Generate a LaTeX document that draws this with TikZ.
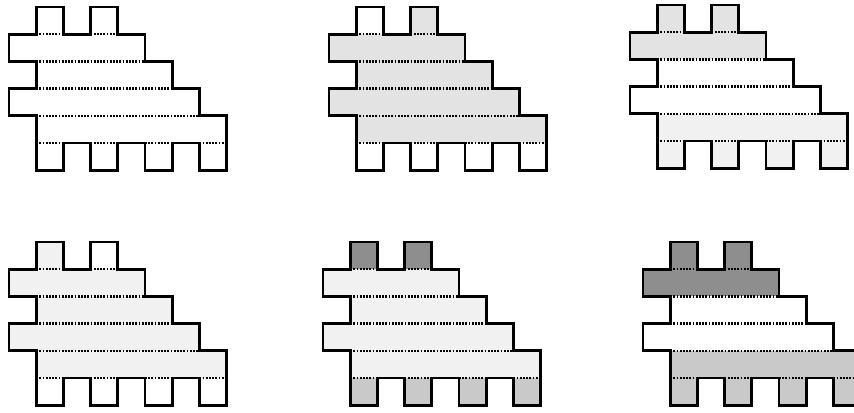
\documentclass[tikz,border=0pt]{standalone}
\usepackage{tikz}
\usepackage{xcolor}
\definecolor{shadelight}{HTML}{E3E3E3}
\definecolor{shadepale}{HTML}{F1F1F1}
\definecolor{shademid}{HTML}{C9C9C9}
\definecolor{shadedark}{HTML}{8E8E8E}

% #1 offset, #2 left top tab, #3 right top tab, #4-#7 rows, #8 bottom tabs
\newcommand{\combshape}[8]{%
  \begin{scope}[shift={#1}, x=20.4pt, y=-20.4pt]
    \fill[#2] (1,0) rectangle (2,1);
    \fill[#3] (3,0) rectangle (4,1);
    \fill[#4] (0,1) rectangle (5,2);
    \fill[#5] (1,2) rectangle (6,3);
    \fill[#6] (0,3) rectangle (7,4);
    \fill[#7] (1,4) rectangle (8,5);
    \foreach \c in {1,3,5,7} {
      \fill[#8] (\c,5) rectangle (\c+1,6);
    }
    % seams between rows
    \draw[seam] (1,1) -- (2,1) (3,1) -- (4,1);
    \draw[seam] (1,2) -- (5,2);
    \draw[seam] (1,3) -- (6,3);
    \draw[seam] (1,4) -- (7,4);
    \foreach \c in {1,3,5,7} {
      \draw[seam] (\c,5) -- (\c+1,5);
    }
    \draw[outline] (1,0) -- (2,0) -- (2,1) -- (3,1) -- (3,0) -- (4,0) -- (4,1) -- (5,1)
      -- (5,2) -- (6,2) -- (6,3) -- (7,3) -- (7,4) -- (8,4) -- (8,6) -- (7,6) -- (7,5)
      -- (6,5) -- (6,6) -- (5,6) -- (5,5) -- (4,5) -- (4,6) -- (3,6) -- (3,5) -- (2,5)
      -- (2,6) -- (1,6) -- (1,4) -- (0,4) -- (0,3) -- (1,3) -- (1,2) -- (0,2) -- (0,1)
      -- (1,1) -- cycle;
  \end{scope}}

\begin{document}
\begin{tikzpicture}[
    x=0.75pt, y=-0.75pt,
    outline/.style={draw=black, line width=2pt, line join=miter},
    seam/.style={line width=1.8pt, dash pattern=on 1.3pt off 1.1pt},
]
\useasboundingbox (0,0) rectangle (854,412);
\clip (0,0) rectangle (854,412);

% Shapes - top row
\combshape{(9,7)}{white}{white}{white}{white}{white}{white}{white}
\combshape{(329,7)}{white}{shadelight}{shadelight}{shadelight}{shadelight}{shadelight}{white}
\combshape{(630,5)}{shadelight}{shadelight}{shadelight}{white}{white}{shadepale}{shadepale}

% Shapes - bottom row
\combshape{(9,242)}{shadepale}{white}{shadepale}{shadepale}{shadepale}{shadepale}{white}
\combshape{(323,242)}{shadedark}{shadedark}{shadepale}{shadepale}{shadepale}{shadepale}{shademid}
\combshape{(643,242)}{shadedark}{shadedark}{shadedark}{white}{white}{shademid}{shademid}

\end{tikzpicture}
\end{document}
